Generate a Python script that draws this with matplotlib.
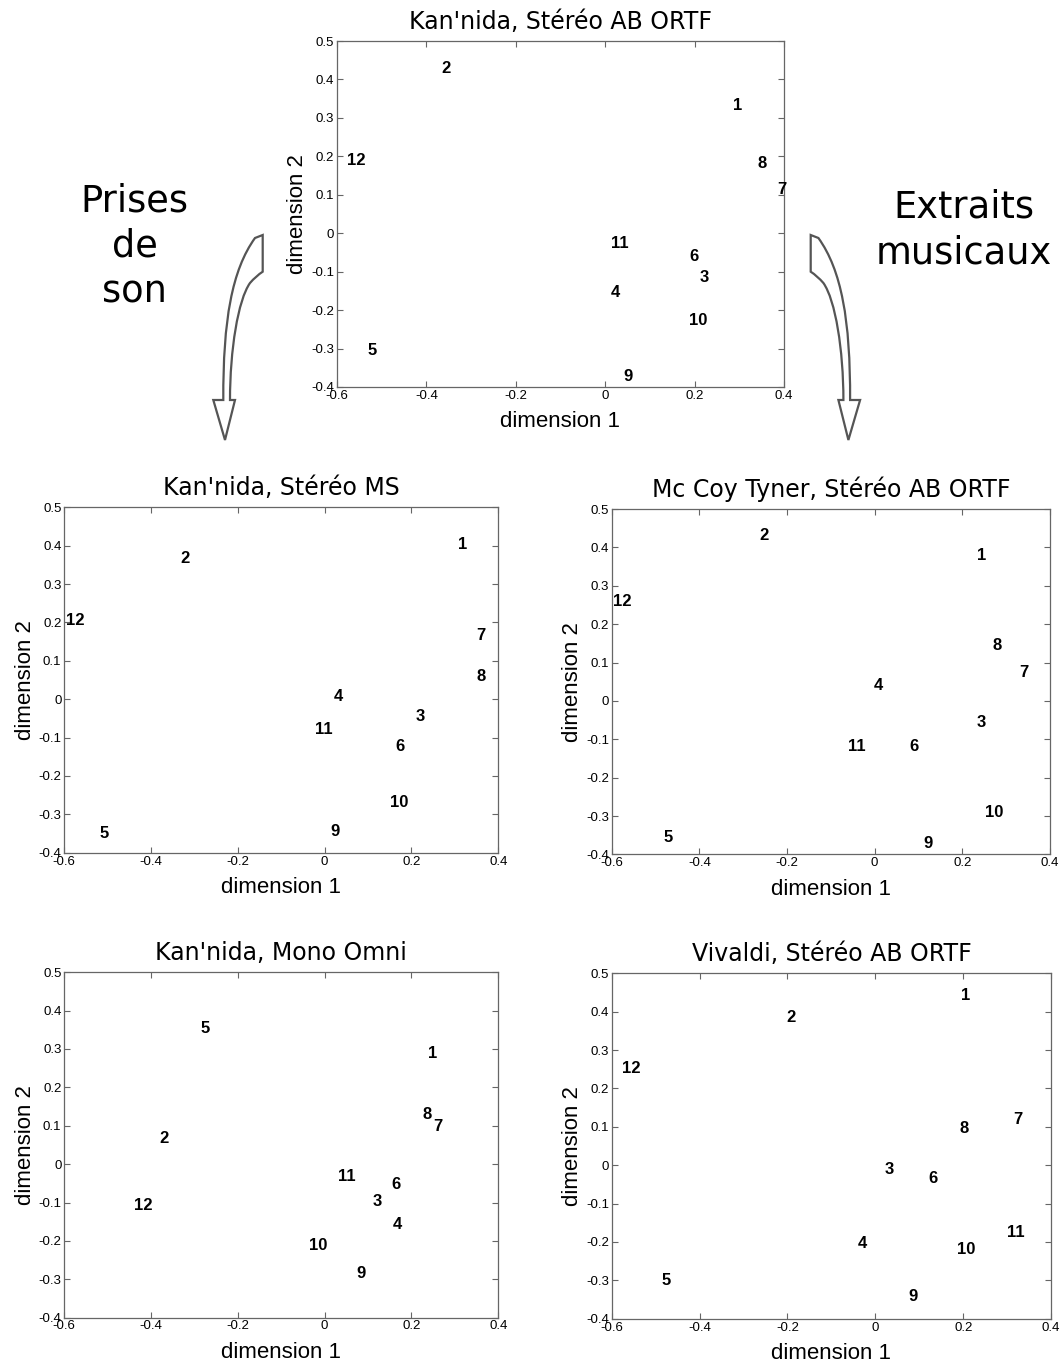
import matplotlib
matplotlib.use("Agg")
import matplotlib.pyplot as plt
from matplotlib.path import Path
from matplotlib.patches import PathPatch
from matplotlib.transforms import Affine2D

# point labels (stimuli 1..12)
labels = [str(i) for i in range(1, 13)]

# MDS coordinates (dimension 1, dimension 2)
ortf_x = [0.287, -0.366, 0.212, 0.012, -0.531, 0.188, 0.384, 0.341, 0.041, 0.188, 0.012, -0.577]
ortf_y = [0.333, 0.429, -0.116, -0.155, -0.306, -0.061, 0.114, 0.182, -0.373, -0.228, -0.026, 0.188]

ms_x = [0.308, -0.333, 0.210, 0.020, -0.518, 0.162, 0.350, 0.350, 0.014, 0.150, -0.022, -0.595]
ms_y = [0.404, 0.367, -0.044, 0.007, -0.351, -0.122, 0.167, 0.060, -0.345, -0.270, -0.080, 0.206]

tyner_x = [0.234, -0.263, 0.233, -0.003, -0.481, 0.079, 0.329, 0.269, 0.111, 0.252, -0.060, -0.598]
tyner_y = [0.380, 0.430, -0.057, 0.040, -0.356, -0.118, 0.074, 0.144, -0.371, -0.291, -0.118, 0.260]

omni_x = [0.237, -0.381, 0.110, 0.157, -0.287, 0.153, 0.249, 0.226, 0.074, -0.036, 0.030, -0.439]
omni_y = [0.289, 0.067, -0.098, -0.157, 0.354, -0.054, 0.098, 0.128, -0.285, -0.212, -0.031, -0.109]

vivaldi_x = [0.195, -0.202, 0.020, -0.040, -0.486, 0.121, 0.313, 0.191, 0.075, 0.185, 0.299, -0.577]
vivaldi_y = [0.442, 0.385, -0.010, -0.204, -0.301, -0.034, 0.119, 0.096, -0.343, -0.219, -0.175, 0.252]

xticks = [-0.6, -0.4, -0.2, 0, 0.2, 0.4]
xticklabels = ["-0.6", "-0.4", "-0.2", "0", "0.2", "0.4"]
yticks = [-0.4, -0.3, -0.2, -0.1, 0, 0.1, 0.2, 0.3, 0.4, 0.5]
yticklabels = ["-0.4", "-0.3", "-0.2", "-0.1", "0", "0.1", "0.2", "0.3", "0.4", "0.5"]

W, H = 1062, 1367
fig = plt.figure(figsize=(W / 100, H / 100), dpi=100)


def panel(rect, title, xs, ys):
    ax = fig.add_axes(rect)
    for lab, x, y in zip(labels, xs, ys):
        ax.text(x, y, lab, ha="left", va="center", fontsize=12,
                fontweight="bold", family="Liberation Sans")
    ax.set_xlim(-0.6, 0.4)
    ax.set_ylim(-0.4, 0.5)
    ax.set_xticks(xticks)
    ax.set_xticklabels(xticklabels)
    ax.set_yticks(yticks)
    ax.set_yticklabels(yticklabels)
    ax.tick_params(direction="in", length=4, width=0.8, color="#666666",
                   top=True, right=True, labelsize=9.5, pad=2)
    for lab in ax.get_xticklabels() + ax.get_yticklabels():
        lab.set_family("Liberation Sans")
    for sp in ax.spines.values():
        sp.set_color("#666666")
        sp.set_linewidth(0.9)
    ax.set_xlabel("dimension 1", fontsize=16, family="Liberation Sans", labelpad=7)
    ax.set_ylabel("dimension 2", fontsize=16, family="Liberation Sans", labelpad=2)
    ax.set_title(title, fontsize=17, family="DejaVu Sans", pad=9)
    return ax


panel([0.3173, 0.7169, 0.4209, 0.2531], "Kan'nida, Stéréo AB ORTF", ortf_x, ortf_y)
panel([0.0605, 0.3762, 0.4087, 0.2527], "Kan'nida, Stéréo MS", ms_x, ms_y)
panel([0.5760, 0.3750, 0.4127, 0.2526], "Mc Coy Tyner, Stéréo AB ORTF", tyner_x, tyner_y)
panel([0.0605, 0.0361, 0.4087, 0.2527], "Kan'nida, Mono Omni", omni_x, omni_y)
panel([0.5760, 0.0353, 0.4138, 0.2527], "Vivaldi, Stéréo AB ORTF", vivaldi_x, vivaldi_y)

# side captions
fig.text(0.127, 0.8198, "Prises\nde\nson", ha="center", va="center",
         fontsize=26.5, family="DejaVu Sans", linespacing=1.3)
fig.text(0.9077, 0.8318, "Extraits\nmusicaux", ha="center", va="center",
         fontsize=26.5, family="DejaVu Sans", linespacing=1.3)

# hollow curved arrows, drawn in image pixel units (y down)
px = Affine2D().scale(1 / W, -1 / H).translate(0, 1) + fig.transFigure


def arrow_path(mirror=None):
    verts = [(262.7, 235), (262.7, 271.7),
             (256, 276), (250, 283),
             (238, 300), (230, 350), (230, 400),
             (235, 400), (225, 440), (213.3, 400), (223.3, 400),
             (223, 320), (232, 270), (255, 238),
             (262.7, 235)]
    codes = [Path.MOVETO, Path.LINETO,
             Path.CURVE3, Path.CURVE3,
             Path.CURVE4, Path.CURVE4, Path.CURVE4,
             Path.LINETO, Path.LINETO, Path.LINETO, Path.LINETO,
             Path.CURVE4, Path.CURVE4, Path.CURVE4,
             Path.CLOSEPOLY]
    if mirror is not None:
        verts = [(mirror - x, y) for x, y in verts]
    return Path(verts, codes)


for m in (None, 1073.4):
    fig.patches.append(PathPatch(arrow_path(m), facecolor="white", edgecolor="#555555",
                                 linewidth=1.6, transform=px))

fig.savefig("out.png", dpi=100)
